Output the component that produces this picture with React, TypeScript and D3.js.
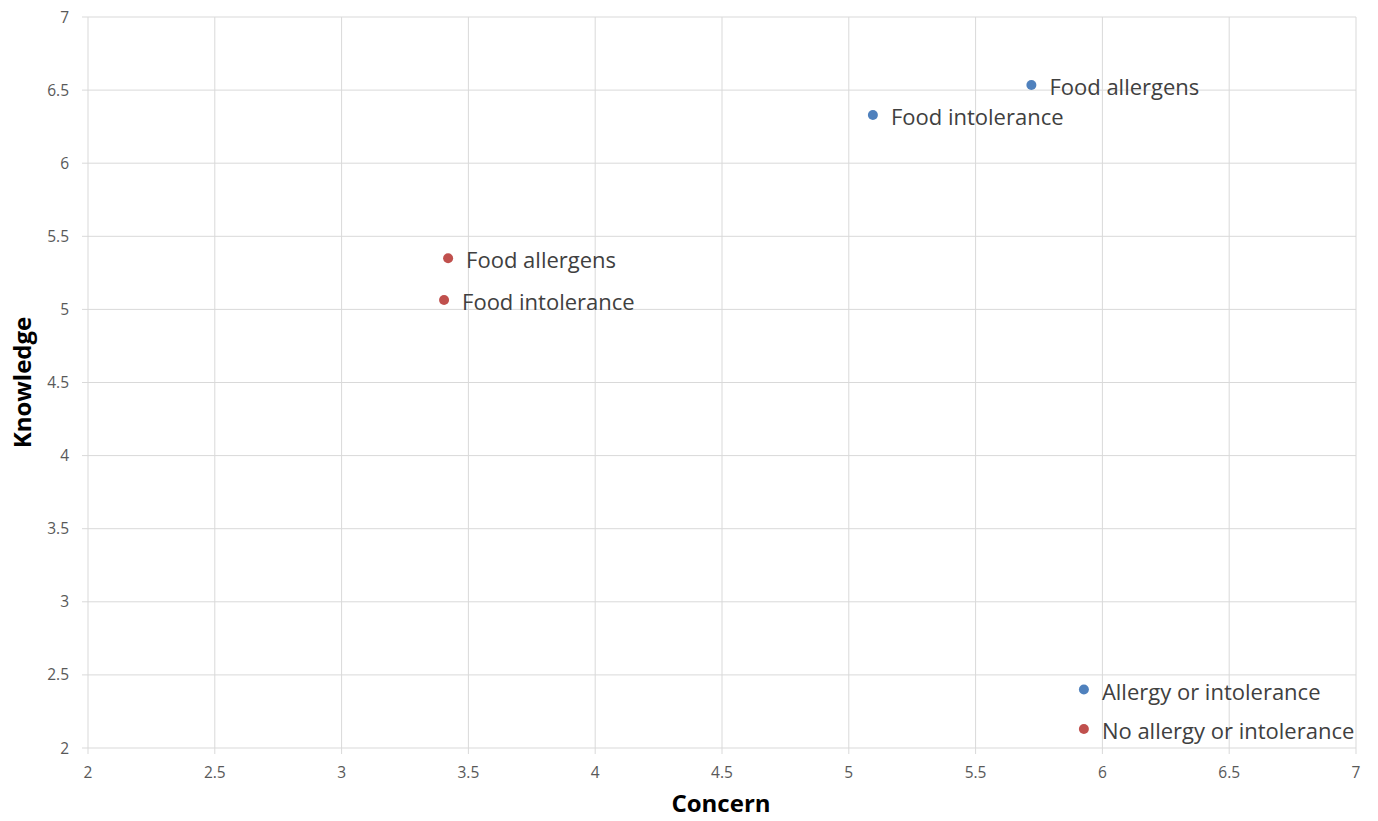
import React from "react";
import * as d3 from "d3";

const xTicks = [2, 2.5, 3, 3.5, 4, 4.5, 5, 5.5, 6, 6.5, 7];
const yTicks = [2, 2.5, 3, 3.5, 4, 4.5, 5, 5.5, 6, 6.5, 7];

const blueLabels = ["Food allergens", "Food intolerance", "Allergy or intolerance"];
const blueConcern = [5.72, 5.095, 5.927];
const blueKnowledge = [6.535, 6.33, 2.4];

const redLabels = ["Food allergens", "Food intolerance", "No allergy or intolerance"];
const redConcern = [3.42, 3.404, 5.927];
const redKnowledge = [5.35, 5.064, 2.13];

const W = 1378;
const H = 821;
const left = 88, right = 1356, top = 17, bottom = 748;

export default function App() {
  const x = d3.scaleLinear().domain([2, 7]).range([left, right]);
  const y = d3.scaleLinear().domain([2, 7]).range([bottom, top]);
  const series = [
    { color: "#4f81bd", labels: blueLabels, xs: blueConcern, ys: blueKnowledge },
    { color: "#c0504d", labels: redLabels, xs: redConcern, ys: redKnowledge },
  ];
  const font = "'Open Sans', 'Liberation Sans', sans-serif";
  return (
    <svg width={W} height={H} style={{ position: "absolute", left: 0, top: 0 }} fontFamily={font}>
      <rect width={W} height={H} fill="#fff" />
      {xTicks.map((t) => (
        <line key={"gx" + t} x1={x(t)} x2={x(t)} y1={top} y2={bottom + 6} stroke="#d9d9d9" strokeWidth={1} />
      ))}
      {yTicks.map((t) => (
        <line key={"gy" + t} x1={left - 6} x2={right} y1={y(t)} y2={y(t)} stroke="#d9d9d9" strokeWidth={1} />
      ))}
      {xTicks.map((t) => (
        <text key={"tx" + t} x={x(t)} y={bottom + 30} textAnchor="middle" fontSize={15.5} fill="#595959">
          {t}
        </text>
      ))}
      {yTicks.map((t) => (
        <text key={"ty" + t} x={left - 19} y={y(t) + 5.5} textAnchor="end" fontSize={15.5} fill="#595959">
          {t}
        </text>
      ))}
      <text x={(left + right) / 2 - 1} y={812} textAnchor="middle" fontSize={24} fontWeight="bold" fill="#000">
        Concern
      </text>
      <text
        transform={`translate(31, ${(top + bottom) / 2}) rotate(-90)`}
        textAnchor="middle"
        fontSize={24}
        fontWeight="bold"
        fill="#000"
      >
        Knowledge
      </text>
      {series.map((s, si) =>
        s.xs.map((v, i) => (
          <g key={`p${si}-${i}`}>
            <circle cx={x(v)} cy={y(s.ys[i])} r={5} fill={s.color} />
            <text x={x(v) + 18} y={y(s.ys[i]) + 10} fontSize={22} fill="#404040">
              {s.labels[i]}
            </text>
          </g>
        ))
      )}
    </svg>
  );
}
